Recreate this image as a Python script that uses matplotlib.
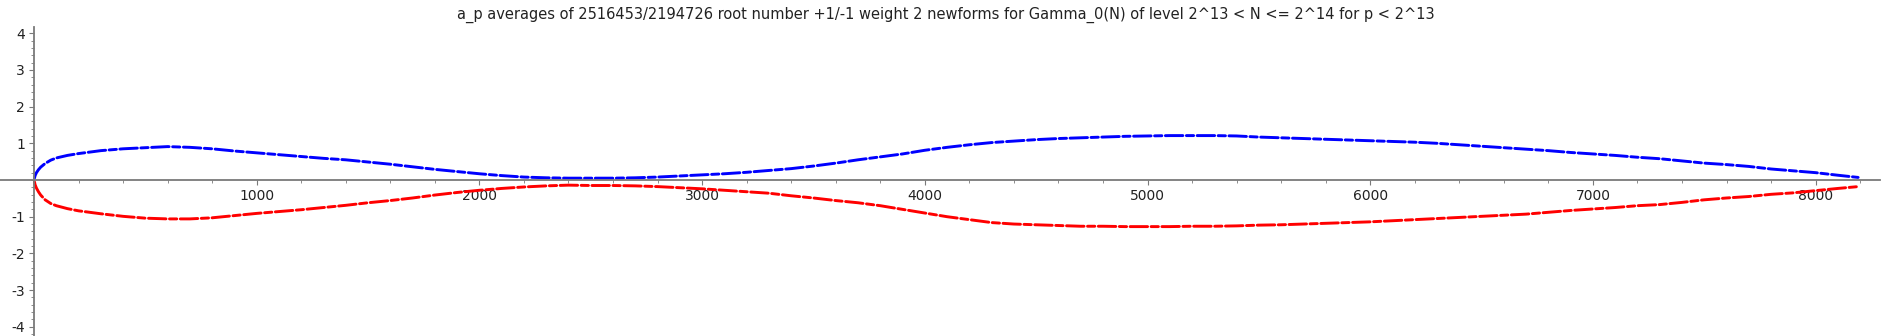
import matplotlib
matplotlib.use("Agg")
import matplotlib.pyplot as plt
from matplotlib.ticker import MultipleLocator, FixedLocator

plt.rcParams['axes.unicode_minus'] = False
plt.rcParams['font.family'] = ['DejaVu Sans']

title = "a_p averages of 2516453/2194726 root number +1/-1 weight 2 newforms for Gamma_0(N) of level 2^13 < N <= 2^14 for p < 2^13"

# primes p (x positions)
p_vals = [2, 5, 11, 20, 30, 50, 75, 100, 150, 200, 300, 400, 500, 600, 700, 800, 900,
          1000, 1100, 1200, 1300, 1400, 1500, 1600, 1700, 1800, 1900,
          2000, 2100, 2200, 2300, 2400, 2500, 2600, 2700, 2800, 2900,
          3000, 3100, 3200, 3300, 3400, 3500, 3600, 3700, 3800, 3900,
          4000, 4100, 4200, 4300, 4400, 4500, 4600, 4700, 4800, 4900,
          5000, 5100, 5200, 5300, 5400, 5500, 5600, 5700, 5800, 5900,
          6000, 6100, 6200, 6300, 6400, 6500, 6600, 6700, 6800, 6900,
          7000, 7100, 7200, 7300, 7400, 7500, 7600, 7700, 7800, 7900,
          8000, 8100, 8191]

# average a_p, root number +1
avg_plus = [0.05, 0.12, 0.20, 0.28, 0.35, 0.45, 0.54, 0.60, 0.67, 0.72, 0.80, 0.85, 0.88, 0.91, 0.89, 0.85, 0.79,
            0.74, 0.69, 0.64, 0.59, 0.55, 0.49, 0.43, 0.36, 0.29, 0.23,
            0.17, 0.12, 0.08, 0.06, 0.05, 0.05, 0.05, 0.06, 0.08, 0.11,
            0.14, 0.17, 0.21, 0.26, 0.31, 0.38, 0.46, 0.55, 0.63, 0.71,
            0.81, 0.89, 0.96, 1.02, 1.06, 1.10, 1.13, 1.15, 1.17, 1.19,
            1.20, 1.21, 1.21, 1.21, 1.20, 1.17, 1.15, 1.13, 1.11, 1.09,
            1.07, 1.05, 1.03, 1.00, 0.96, 0.92, 0.88, 0.84, 0.80, 0.75,
            0.71, 0.67, 0.62, 0.58, 0.52, 0.46, 0.42, 0.37, 0.30, 0.25,
            0.20, 0.13, 0.07]

# average a_p, root number -1
avg_minus = [-0.05, -0.13, -0.22, -0.32, -0.41, -0.54, -0.64, -0.70, -0.78, -0.84, -0.92, -0.99, -1.04, -1.06, -1.06, -1.03, -0.97,
             -0.91, -0.86, -0.81, -0.75, -0.69, -0.62, -0.56, -0.49, -0.41, -0.34,
             -0.28, -0.23, -0.19, -0.16, -0.14, -0.15, -0.15, -0.16, -0.18, -0.21,
             -0.24, -0.28, -0.32, -0.36, -0.43, -0.49, -0.56, -0.62, -0.70, -0.80,
             -0.90, -1.00, -1.08, -1.16, -1.20, -1.22, -1.24, -1.26, -1.26, -1.27,
             -1.27, -1.27, -1.26, -1.26, -1.25, -1.23, -1.22, -1.20, -1.18, -1.16,
             -1.14, -1.11, -1.08, -1.05, -1.02, -0.99, -0.96, -0.93, -0.88, -0.83,
             -0.79, -0.75, -0.70, -0.67, -0.61, -0.54, -0.49, -0.45, -0.39, -0.35,
             -0.29, -0.23, -0.18]

x_ticks = [1000, 2000, 3000, 4000, 5000, 6000, 7000, 8000]
y_ticks = [-4, -3, -2, -1, 1, 2, 3, 4]

W, H = 1882, 336
fig = plt.figure(figsize=(W / 100, H / 100), dpi=100)
ax = fig.add_axes([0, 0, 1880 / W, (H - 27) / H])

x0_px, sx = 34.0, 0.2227
y0_px, sy = 180.0, 36.7
ax.set_xlim(-x0_px / sx, (1880 - x0_px) / sx)
ax.set_ylim(-(H - y0_px) / sy, (y0_px - 27) / sy)

ls = (0, (6, 1.2, 2.5, 1.2))
ax.plot(p_vals, avg_plus, color='#0000ff', lw=2.1, ls=ls, solid_capstyle='round', dash_capstyle='round')
ax.plot(p_vals, avg_minus, color='#ff0000', lw=2.1, ls=ls, solid_capstyle='round', dash_capstyle='round')

axis_col = '#7a7a7a'
for side in ['top', 'right']:
    ax.spines[side].set_visible(False)
ax.spines['left'].set_position(('data', 0))
ax.spines['bottom'].set_position(('data', 0))
for side in ['left', 'bottom']:
    ax.spines[side].set_color(axis_col)
    ax.spines[side].set_linewidth(1.3)

ax.xaxis.set_major_locator(FixedLocator(x_ticks))
ax.xaxis.set_minor_locator(MultipleLocator(200))
ax.yaxis.set_major_locator(FixedLocator(y_ticks))
ax.yaxis.set_minor_locator(MultipleLocator(0.2))
ax.tick_params(which='major', direction='out', length=3.5, width=0.8, color=axis_col,
               labelsize=10, labelcolor='#222222', pad=3)
ax.tick_params(which='minor', direction='out', length=2, width=0.6, color=axis_col)
ax.patch.set_alpha(0)

fig.text(946 / W, 1 - 15 / H, title, ha='center', va='center', fontsize=10.5, color='#222222')

fig.savefig('out.png', dpi=100)
